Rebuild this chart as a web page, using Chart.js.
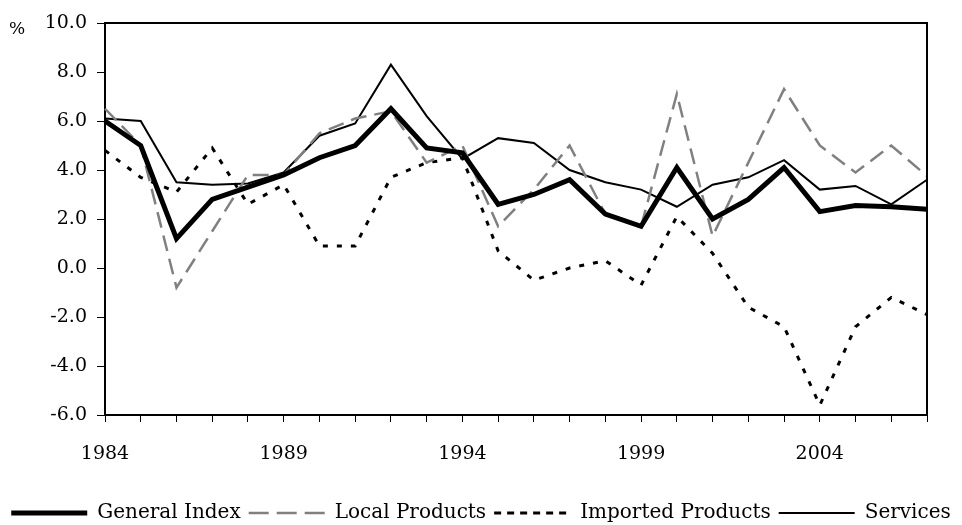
<!DOCTYPE html>
<html>
<head>
<meta charset="utf-8">
<script src="https://cdn.jsdelivr.net/npm/chart.js@4"></script>
<style>
  html, body { margin: 0; padding: 0; background: #fff; }
  #wrap { width: 962px; height: 525px; }
</style>
</head>
<body>
<div id="wrap"><canvas id="myChart" width="962" height="525"></canvas></div>
<script>
// anos e series (%)
const years = ['1984','1985','1986','1987','1988','1989','1990','1991','1992','1993','1994','1995',
               '1996','1997','1998','1999','2000','2001','2002','2003','2004','2005','2006','2007'];
const generalIndex = [6.0, 5.0, 1.2, 2.8, 3.3, 3.8, 4.5, 5.0, 6.5, 4.9, 4.7, 2.6,
                      3.0, 3.6, 2.2, 1.7, 4.1, 2.0, 2.8, 4.1, 2.3, 2.55, 2.5, 2.4];
const localProducts = [6.5, 5.0, -0.8, 1.5, 3.8, 3.8, 5.5, 6.1, 6.4, 4.3, 5.0, 1.7,
                       3.2, 5.0, 2.2, 1.7, 7.1, 1.3, 4.3, 7.3, 5.0, 3.9, 5.0, 3.75];
const importedProducts = [4.8, 3.7, 3.1, 4.9, 2.6, 3.4, 0.9, 0.9, 3.7, 4.3, 4.5, 0.7,
                          -0.5, 0.0, 0.3, -0.7, 2.1, 0.6, -1.6, -2.4, -5.6, -2.4, -1.2, -1.9];
const services = [6.1, 6.0, 3.5, 3.4, 3.45, 3.9, 5.4, 5.9, 8.3, 6.2, 4.45, 5.3,
                  5.1, 4.0, 3.5, 3.2, 2.5, 3.4, 3.7, 4.4, 3.2, 3.35, 2.6, 3.6];
const yTicks = [-6, -4, -2, 0, 2, 4, 6, 8, 10];

const FONT = "'DejaVu Serif', serif";

// moldura completa + simbolo de %
const framePlugin = {
    id: 'frame',
    afterDraw(chart) {
        const {ctx, chartArea} = chart;
        ctx.save();
        ctx.strokeStyle = '#000';
        ctx.lineWidth = 2;
        ctx.beginPath();
        ctx.moveTo(chartArea.left, chartArea.top);
        ctx.lineTo(chartArea.right, chartArea.top);
        ctx.lineTo(chartArea.right, chartArea.bottom);
        ctx.stroke();
        ctx.fillStyle = '#000';
        ctx.font = '17px ' + FONT;
        ctx.textBaseline = 'alphabetic';
        ctx.fillText('%', 9, 34);
        ctx.restore();
    }
};

// tracejado da legenda (um pouco diferente do grafico)
const legendDash = [[], [20, 8], [7, 6], []];

const ctx = document.getElementById('myChart');

new Chart(ctx, {
    type: 'line',
    data: {
        labels: years,
        datasets: [
            { label: 'General Index', data: generalIndex, borderColor: '#000', borderWidth: 5 },
            { label: 'Local Products', data: localProducts, borderColor: '#808080', borderWidth: 2.5, borderDash: [16, 8] },
            { label: 'Imported Products', data: importedProducts, borderColor: '#000', borderWidth: 3, borderDash: [5, 9] },
            { label: 'Services', data: services, borderColor: '#000', borderWidth: 2 }
        ]
    },
    options: {
        responsive: false,
        animation: false,
        devicePixelRatio: 1,
        layout: { padding: { top: 23, right: 0, left: 0, bottom: -8 } },
        elements: {
            point: { radius: 0, hoverRadius: 0 },
            line: { tension: 0, fill: false }
        },
        plugins: {
            tooltip: { enabled: false },
            legend: {
                position: 'bottom',
                labels: {
                    usePointStyle: true,
                    pointStyle: 'line',
                    pointStyleWidth: 76,
                    padding: 8,
                    color: '#000',
                    font: { family: FONT, size: 20, lineHeight: 1 },
                    generateLabels: chart => {
                        const items = Chart.defaults.plugins.legend.labels.generateLabels(chart);
                        items.forEach(item => {
                            const ds = chart.data.datasets[item.datasetIndex];
                            item.lineDash = legendDash[item.datasetIndex];
                            item.lineWidth = ds.borderWidth;
                            item.strokeStyle = ds.borderColor;
                            item.pointStyle = 'line';
                        });
                        return items;
                    }
                }
            }
        },
        scales: {
            x: {
                type: 'category',
                offset: false,
                border: { display: true, color: '#000', width: 2 },
                grid: { drawOnChartArea: false, drawTicks: true, tickLength: 7, color: '#000', tickColor: '#000' },
                ticks: {
                    autoSkip: false,
                    maxRotation: 0,
                    padding: 21,
                    color: '#000',
                    font: { family: FONT, size: 19 },
                    callback: function (value, index) {
                        return index % 5 === 0 ? years[index] : '';
                    }
                },
                afterFit: scale => { scale.height = 80; }
            },
            y: {
                min: -6,
                max: 10,
                border: { display: true, color: '#000', width: 2 },
                grid: { drawOnChartArea: false, drawTicks: true, tickLength: 8, color: '#000', tickColor: '#000' },
                afterBuildTicks: scale => { scale.ticks = yTicks.map(v => ({ value: v })); },
                ticks: {
                    padding: 10,
                    color: '#000',
                    font: { family: FONT, size: 19 },
                    callback: v => v.toFixed(1)
                },
                afterFit: scale => { scale.width = 105; }
            },
            yRight: {
                position: 'right',
                display: true,
                border: { display: false },
                grid: { display: false },
                ticks: { display: false },
                afterFit: scale => { scale.width = 35; }
            }
        }
    },
    plugins: [framePlugin]
});
</script>
</body>
</html>
